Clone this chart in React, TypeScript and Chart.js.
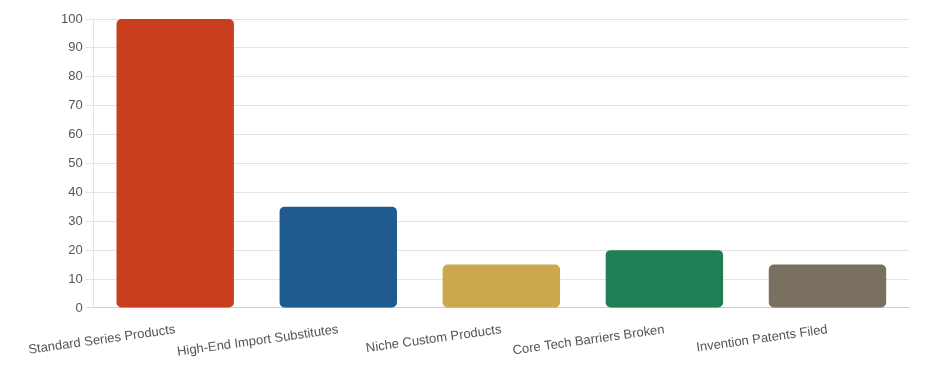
import React, { useEffect, useRef } from "react";
import { Chart, registerables } from "chart.js";

Chart.register(...registerables);

const categories = [
  "Standard Series Products",
  "High-End Import Substitutes",
  "Niche Custom Products",
  "Core Tech Barriers Broken",
  "Invention Patents Filed",
];
const values = [100, 35, 15, 20, 15];
const barColors = ["#C73F1D", "#1F5B8F", "#CBA84D", "#207E55", "#7A7061"];

export default function App() {
  const ref = useRef<HTMLCanvasElement | null>(null);
  useEffect(() => {
    if (!ref.current) return;
    const chart = new Chart(ref.current, {
      type: "bar",
      data: {
        labels: categories,
        datasets: [
          {
            data: values,
            backgroundColor: barColors,
            borderColor: barColors,
            borderWidth: 0,
            borderRadius: 5,
            borderSkipped: false,
          },
        ],
      },
      options: {
        animation: false,
        responsive: true,
        maintainAspectRatio: false,
        layout: { padding: { top: 11, right: 15, left: 50, bottom: 0 } },
        plugins: { legend: { display: false }, tooltip: { enabled: false } },
        scales: {
          x: {
            grid: { display: false },
            border: { color: "#cccccc" },
            ticks: {
              color: "#555555",
              font: { size: 13 },
              minRotation: 8,
              maxRotation: 8,
              autoSkip: false,
              padding: 6,
            },
          },
          y: {
            min: 0,
            max: 100,
            ticks: { stepSize: 10, color: "#555555", font: { size: 13 } },
            grid: { color: "#e3e3e3" },
            border: { color: "#e3e3e3" },
          },
        },
      },
    });
    return () => chart.destroy();
  }, []);
  return (
    <div style={{ width: 916, height: 358, position: "relative" }}>
      <canvas ref={ref} />
    </div>
  );
}
